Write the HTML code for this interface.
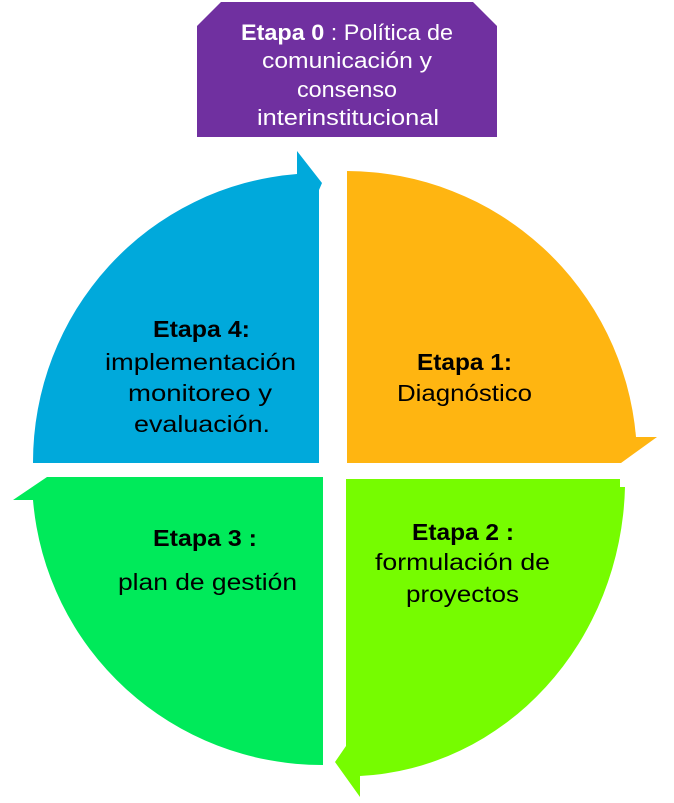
<!DOCTYPE html>
<html><head><meta charset="utf-8"><style>html,body{margin:0;padding:0;background:#fff}svg{display:block}</style></head>
<body>
<svg width="674" height="803" viewBox="0 0 674 803" xmlns="http://www.w3.org/2000/svg" font-family="'Liberation Sans', sans-serif" font-size="22">
<path d="M221,2 L473,2 L497,26 L497,137 L197,137 L197,26 Z" fill="#7030A0"/>
<path d="M319,463 L33,463 A286,289 0 0 1 297,174 L297,151 L322,183 L319,190 Z" fill="#00A9DB"/>
<path d="M347,171 A291,291 0 0 1 636,437 L657,437 L621,463 L347,463 Z" fill="#FFB511"/>
<path d="M346,479 L620,479 L620,487 L625,487 A278,297 0 0 1 360,776 L360,797 L335,762 L346,746 Z" fill="#76FC00"/>
<path d="M323,477 L47,477 L13,500 L33,500 A290,289 0 0 0 323,765 Z" fill="#00EA5A"/>
<g fill="#fff">
<text x="241" y="40" textLength="212" lengthAdjust="spacingAndGlyphs"><tspan font-weight="bold">Etapa 0</tspan> : Política de</text>
<text x="262" y="68" textLength="170" lengthAdjust="spacingAndGlyphs">comunicación y</text>
<text x="297" y="97" textLength="100" lengthAdjust="spacingAndGlyphs">consenso</text>
<text x="257" y="125" textLength="182" lengthAdjust="spacingAndGlyphs">interinstitucional</text>
</g>
<g fill="#000" font-size="23">
<text x="153" y="337" font-weight="bold" textLength="97" lengthAdjust="spacingAndGlyphs">Etapa 4:</text>
<text x="105" y="370" textLength="191" lengthAdjust="spacingAndGlyphs">implementación</text>
<text x="128" y="401" textLength="144" lengthAdjust="spacingAndGlyphs">monitoreo y</text>
<text x="134" y="432" textLength="136" lengthAdjust="spacingAndGlyphs">evaluación.</text>
<text x="417" y="370" font-weight="bold" textLength="95" lengthAdjust="spacingAndGlyphs">Etapa 1:</text>
<text x="397" y="401" textLength="135" lengthAdjust="spacingAndGlyphs">Diagnóstico</text>
<text x="153" y="546" font-weight="bold" textLength="104" lengthAdjust="spacingAndGlyphs">Etapa 3 :</text>
<text x="118" y="590" textLength="179" lengthAdjust="spacingAndGlyphs">plan de gestión</text>
<text x="412" y="540" font-weight="bold" textLength="102" lengthAdjust="spacingAndGlyphs">Etapa 2 :</text>
<text x="375" y="570" textLength="175" lengthAdjust="spacingAndGlyphs">formulación de</text>
<text x="406" y="602" textLength="113" lengthAdjust="spacingAndGlyphs">proyectos</text>
</g>
</svg>
</body></html>
